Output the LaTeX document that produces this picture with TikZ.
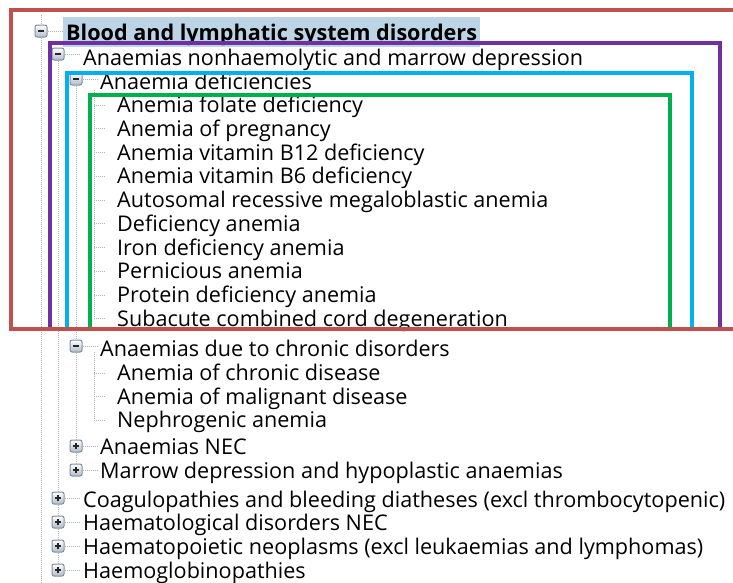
\documentclass[tikz,border=0pt]{standalone}
\usepackage{fontspec}
\setmainfont{Open Sans}
\definecolor{frred}{HTML}{C0504D}
\definecolor{frpurple}{HTML}{7030A0}
\definecolor{frblue}{HTML}{00B0F0}
\definecolor{frgreen}{HTML}{00B050}
\definecolor{selblue}{HTML}{BCD5E6}
\definecolor{iconline}{HTML}{7D8EA3}
\begin{document}
\begin{tikzpicture}[x=1pt,y=-1pt,
  txt/.style={anchor=base west,inner sep=0pt,font=\fontsize{21.6}{21.6}\selectfont},
  icon/.style={draw=iconline,line width=1pt,rounded corners=2pt,minimum size=12pt,inner sep=0pt,
    top color=white,bottom color=iconline!60},
  minusbox/.style={icon,path picture={\draw[line width=1.6pt,black!85]
    ([xshift=-3pt]path picture bounding box.center) -- ([xshift=3pt]path picture bounding box.center);}},
  plusbox/.style={icon,path picture={\draw[line width=1.6pt,black!85]
    ([xshift=-3pt]path picture bounding box.center) -- ([xshift=3pt]path picture bounding box.center)
    ([yshift=-3pt]path picture bounding box.center) -- ([yshift=3pt]path picture bounding box.center);}},
  tree/.style={gray!60,line width=0.9pt,dash pattern=on 1pt off 1pt},
  frame/.style={line width=4pt}]
  \useasboundingbox (0,0) rectangle (733,582);
  % selected row
  \fill[selblue] (63,17) rectangle (480,47);
  % tree lines
  \coordinate (top) at (41,15);
  \coordinate (bot) at (41,582);
  \coordinate (ld1) at (94,90);
  \coordinate (lc1) at (94,352);
  % root
  \node[minusbox] (blood) at (41,31) {};
  \node[txt,font=\fontsize{21.6}{21.6}\selectfont\bfseries] (tblood) at (66,40) {Blood and lymphatic system disorders};
  % level 1
  \node[minusbox] (anae) at (58,54) {};
  \node[txt] (tanae) at (83,65) {Anaemias nonhaemolytic and marrow depression};
  % level 2
  \node[minusbox] (defic) at (76,79) {};
  \node[txt] (tdefic) at (100,89) {Anaemia deficiencies};
  \foreach \t [count=\i from 0] in {Anemia folate deficiency,Anemia of pregnancy,
      Anemia vitamin B12 deficiency,Anemia vitamin B6 deficiency,
      Autosomal recessive megaloblastic anemia,Deficiency anemia,
      Iron deficiency anemia,Pernicious anemia,Protein deficiency anemia,
      Subacute combined cord degeneration}{
    \node[txt] (d\i) at (117,112.5+23.75*\i) {\t};
    \coordinate (dt\i) at (94,105+23.75*\i);
    \draw[tree] (dt\i) -- ([xshift=-11pt]d\i.base west |- dt\i);
  }
  \draw[tree] (ld1) -- (dt9);
  \node[minusbox] (chron) at (76,346) {};
  \node[txt] (tchron) at (100,356) {Anaemias due to chronic disorders};
  \foreach \t/\y [count=\i] in {Anemia of chronic disease/380.5,
      Anemia of malignant disease/404,Nephrogenic anemia/427.5}{
    \node[txt] (c\i) at (117,\y) {\t};
    \coordinate (ct\i) at (94,\y-7.5);
    \draw[tree] (ct\i) -- ([xshift=-11pt]c\i.base west |- ct\i);
  }
  \draw[tree] (lc1) -- (ct3);
  \node[plusbox] (nec) at (76,446) {};
  \node[txt] (tnec) at (100,454) {Anaemias NEC};
  \node[plusbox] (marrow) at (76,470) {};
  \node[txt] (tmarrow) at (100,478) {Marrow depression and hypoplastic anaemias};
  % level 1 siblings
  \node[plusbox] (coag) at (58,498) {};
  \node[txt] (tcoag) at (83,507) {Coagulopathies and bleeding diatheses (excl thrombocytopenic)};
  \node[plusbox] (hdis) at (58,522) {};
  \node[txt] (thdis) at (83,530.5) {Haematological disorders NEC};
  \node[plusbox] (hneo) at (58,546) {};
  \node[txt] (thneo) at (83,554) {Haematopoietic neoplasms (excl leukaemias and lymphomas)};
  \node[plusbox] (hglob) at (58,570) {};
  \node[txt] (thglob) at (83,578) {Haemoglobinopathies};
  % connectors
  \draw[tree] (top) -- (blood) (blood) -- (bot);
  \draw[tree] (anae) -- (coag) -- (hdis) -- (hneo) -- (hglob);
  \draw[tree] (defic) -- (chron) -- (nec) -- (marrow);
  \foreach \a/\b in {blood/tblood,anae/tanae,defic/tdefic,chron/tchron,nec/tnec,
      marrow/tmarrow,coag/tcoag,hdis/thdis,hneo/thneo,hglob/thglob}
    \draw[tree] (\a.east) -- ([xshift=-3pt]\b.base west |- \a.east);
  % frames
  \draw[frame,frgreen] (90,95) rectangle (670,329);
  \draw[frame,frblue] (67,73) rectangle (692,329);
  \draw[frame,frpurple] (50,43) rectangle (720,329);
  \draw[frame,frred] (11,10) rectangle (745,329);
\end{tikzpicture}
\end{document}
